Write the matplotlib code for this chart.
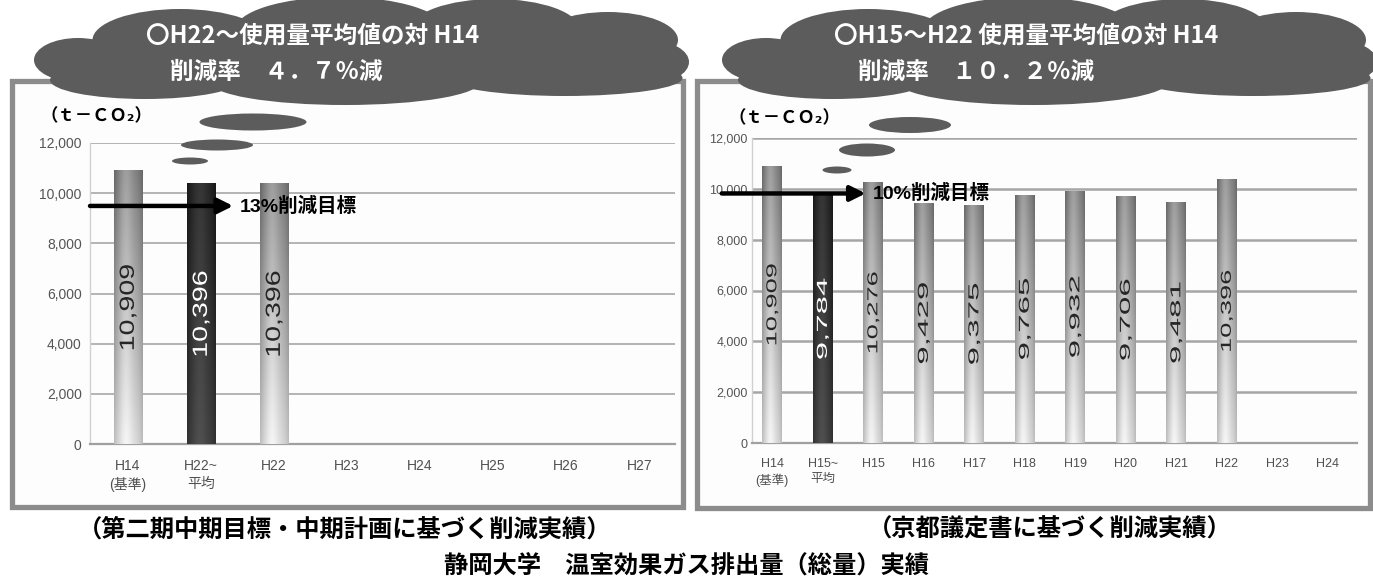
import numpy as np
import matplotlib
matplotlib.use("Agg")
import matplotlib.pyplot as plt
from matplotlib.patches import Ellipse, Rectangle, PathPatch
from matplotlib.textpath import TextPath
from matplotlib.font_manager import FontProperties
from matplotlib.transforms import Affine2D, ScaledTranslation

plt.rcParams["font.family"] = ["Noto Sans CJK JP", "DejaVu Sans"]

# ---- data ---------------------------------------------------------------
left_categories = ["H14\n(基準)", "H22~\n平均", "H22", "H23", "H24", "H25", "H26", "H27"]
left_values = [10909, 10396, 10396]
left_highlight = 1

right_categories = ["H14\n(基準)", "H15~\n平均", "H15", "H16", "H17", "H18",
                    "H19", "H20", "H21", "H22", "H23", "H24"]
right_values = [10909, 9784, 10276, 9429, 9375, 9765, 9932, 9706, 9481, 10396]
right_highlight = 1

baseline = 10909
left_cut_pct = 13
right_cut_pct = 10

yticks = [0, 2000, 4000, 6000, 8000, 10000, 12000]
ytick_labels = ["0", "2,000", "4,000", "6,000", "8,000", "10,000", "12,000"]

left_bubble = ["〇H22～使用量平均値の対 H14", "削減率　４．７％減"]
right_bubble = ["〇H15～H22 使用量平均値の対 H14", "削減率　１０．２％減"]
left_caption = "（第二期中期目標・中期計画に基づく削減実績）"
right_caption = "（京都議定書に基づく削減実績）"
title = "静岡大学　温室効果ガス排出量（総量）実績"
unit = "（ｔ－ＣＯ₂）"

# ---- figure -------------------------------------------------------------
W, H = 1373, 586
fig = plt.figure(figsize=(W / 100, H / 100), dpi=100)
fig.patch.set_facecolor("white")

# background layer (panel frames) in pixel coordinates
bg = fig.add_axes([0, 0, 1, 1], zorder=0)
bg.set_xlim(0, W)
bg.set_ylim(H, 0)
bg.axis("off")
for x0, y0, x1, y1 in [(12, 81, 683, 507), (697, 81, 1370, 508)]:
    bg.add_patch(Rectangle((x0, y0), x1 - x0, y1 - y0, facecolor="#fdfdfd",
                           edgecolor="#8c8c8c", lw=3.8))

REG = ["Liberation Sans", "Noto Sans CJK JP"]


def gradient(dark):
    ny, nx = 80, 40
    t = np.linspace(0, 1, ny)[:, None]
    s = np.linspace(0, 1, nx)[None, :]
    if dark:
        vert = 0.25 - 0.10 * t
        horiz = 0.06 * np.exp(-((s - 0.45) / 0.25) ** 2) - 0.06 * (np.abs(s - 0.5) * 2) ** 3
    else:
        vert = 0.86 - 0.34 * t
        horiz = 0.10 * np.exp(-((s - 0.42) / 0.22) ** 2) - 0.12 * (np.abs(s - 0.5) * 2) ** 3
    v = np.clip(vert + horiz, 0, 1)
    return np.dstack([v, v, v])


def value_label(ax, x, y, s, length, thickness, color):
    """Vertical value label, stretched to a given length/thickness in pixels."""
    tp = TextPath((0, 0), s, size=20, prop=FontProperties(family="Liberation Sans"))
    ext = tp.get_extents()
    sx = length / ext.width
    sy = thickness / ext.height
    tr = (Affine2D().translate(-(ext.x0 + ext.width / 2), -(ext.y0 + ext.height / 2))
          .scale(sx, sy).rotate_deg(90) + ScaledTranslation(x, y, ax.transData))
    ax.add_patch(PathPatch(tp, transform=tr, facecolor=color, edgecolor="none",
                           zorder=4))


def draw_panel(rect, cats, vals, hl, xlim, cut_pct, tick_size, ypad, grid_color,
               grid_lw, arrow_start, arrow_tip, text_x, arrow_label, lab_len, lab_thk):
    ax = fig.add_axes(rect, zorder=1)
    ax.set_facecolor("none")
    ax.set_xlim(*xlim)
    ax.set_ylim(0, 12000)
    x = np.arange(len(vals))
    width = 0.39
    bars = ax.bar(x, vals, width=width, facecolor="none", edgecolor="none", zorder=3)
    for i, (b, v) in enumerate(zip(bars, vals)):
        im = ax.imshow(gradient(i == hl), extent=(i - width / 2, i + width / 2, 0, v),
                       origin="lower", aspect="auto", zorder=3, interpolation="bilinear")
        im.set_clip_path(b)
        value_label(ax, i, v / 2, f"{v:,}", lab_len, lab_thk,
                    "white" if i == hl else "#262626")
    ax.set_xlim(*xlim)
    ax.set_ylim(0, 12000)
    ax.set_yticks(yticks)
    ax.set_yticklabels(ytick_labels, family=REG, fontsize=tick_size, color="#555555")
    ax.set_xticks(np.arange(len(cats)))
    ax.set_xticklabels(cats, family=REG, fontsize=tick_size, color="#505050",
                       linespacing=1.35, va="top")
    ax.tick_params(axis="y", length=0, pad=ypad)
    ax.tick_params(axis="x", length=0, pad=11)
    ax.yaxis.grid(True, color=grid_color, lw=grid_lw, zorder=1)
    ax.set_axisbelow(True)
    for side in ("top", "right"):
        ax.spines[side].set_visible(False)
    ax.spines["left"].set_color("#d0d0d0")
    ax.spines["left"].set_linewidth(1.0)
    ax.spines["bottom"].set_color("#a0a0a0")
    ax.spines["bottom"].set_linewidth(1.6)
    target = baseline * (1 - cut_pct / 100)
    ax.annotate("", xy=(arrow_tip, target), xytext=(arrow_start, target),
                arrowprops=dict(arrowstyle="-|>,head_length=0.9,head_width=0.45",
                                color="black", lw=3.2, shrinkA=0, shrinkB=0),
                zorder=6, annotation_clip=False)
    ax.text(text_x, target, arrow_label, ha="left", va="center", fontsize=14,
            fontweight="bold", color="black", zorder=6,
            family=["Liberation Sans", "Noto Sans CJK JP"])
    return ax


draw_panel([90 / W, 1 - 444 / H, 585 / W, 301 / H], left_categories, left_values,
           left_highlight, (-0.52, 7.49), left_cut_pct, 10, 6,
           "#b4b4b4", 1.4, -0.52, 1.44, 1.53, f"{left_cut_pct}%削減目標", 84, 17)
draw_panel([752 / W, 1 - 443 / H, 605 / W, 305 / H], right_categories, right_values,
           right_highlight, (-0.4, 11.58), right_cut_pct, 9, 3,
           "#a6a6a6", 1.8, -1.0, 1.85, 2.0, f"{right_cut_pct}%削減目標", 80, 12)

# ---- top layer: speech clouds and captions ------------------------------
top = fig.add_axes([0, 0, 1, 1], zorder=5)
top.set_xlim(0, W)
top.set_ylim(H, 0)
top.axis("off")
top.patch.set_alpha(0)

CLOUD = "#5c5c5c"
cloud_parts = [
    (78, 60, 88, 44), (180, 40, 175, 62), (340, 30, 210, 66), (495, 30, 170, 62),
    (608, 40, 140, 56), (652, 62, 74, 42), (145, 80, 190, 38), (345, 82, 270, 46),
    (565, 78, 235, 36), (360, 55, 560, 62),
]


def cloud(dx, bubbles):
    for cx, cy, w, h in cloud_parts:
        top.add_patch(Ellipse((cx + dx, cy), w, h, facecolor=CLOUD, edgecolor="none"))
    for cx, cy, w, h in bubbles:
        top.add_patch(Ellipse((cx, cy), w, h, facecolor=CLOUD, edgecolor="none"))


cloud(0, [(253, 122, 107, 17), (217, 145, 72, 11), (190, 161, 36, 7)])
cloud(688, [(910, 125, 82, 16), (867, 150, 56, 13), (837, 170, 29, 7)])

bubble_kw = dict(color="white", fontsize=17, fontweight="bold", ha="left", va="center")
top.text(146, 36, left_bubble[0], **bubble_kw)
top.text(170, 72, left_bubble[1], **bubble_kw)
top.text(834, 36, right_bubble[0], **bubble_kw)
top.text(858, 72, right_bubble[1], **bubble_kw)

top.text(40, 116, unit, fontsize=12.5, fontweight="bold", ha="left", va="center",
         family=["Noto Sans CJK JP", "DejaVu Sans"])
top.text(728, 118, unit, fontsize=12.5, fontweight="bold", ha="left", va="center",
         family=["Noto Sans CJK JP", "DejaVu Sans"])

cap_kw = dict(fontsize=17.5, fontweight="bold", ha="center", va="center")
top.text(345, 530, left_caption, **cap_kw)
top.text(1050, 530, right_caption, **cap_kw)
top.text(687, 567, title, **cap_kw)

fig.savefig("out.png", dpi=100, facecolor="white")
